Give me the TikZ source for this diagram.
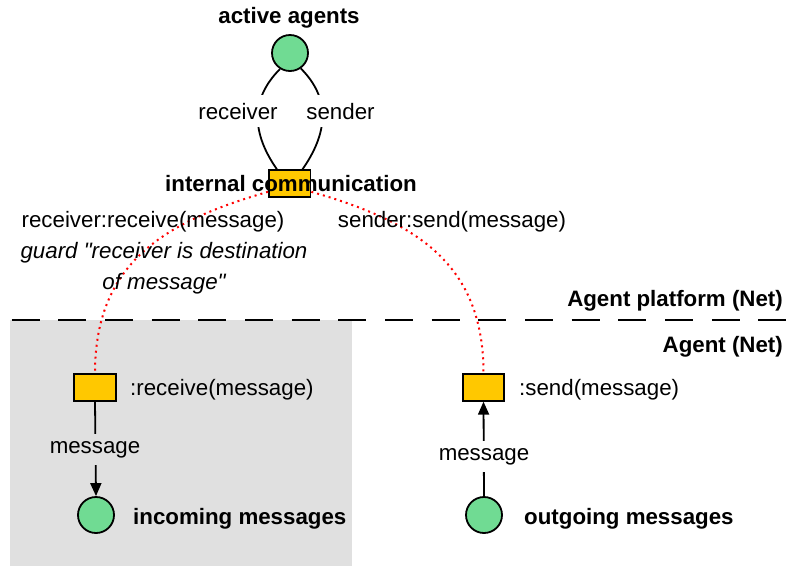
\documentclass[tikz,border=0pt]{standalone}
\usepackage{fontspec}
\setmainfont{Liberation Sans}[Ligatures=TeXOff]
\usetikzlibrary{arrows.meta}
\definecolor{placegreen}{RGB}{112,219,147}
\definecolor{transyellow}{RGB}{255,200,0}
\definecolor{panelgray}{RGB}{224,224,224}
\newcommand\diagfont{\fontsize{22.3}{26}\selectfont}
\begin{document}
\begin{tikzpicture}[x=1pt,y=1pt,
  every node/.style={font=\diagfont, inner sep=0pt},
  place/.style={circle, draw, line width=1.8pt, fill=placegreen, minimum size=36pt},
  transition/.style={rectangle, draw, line width=1.8pt, fill=transyellow,
    minimum width=41.5pt, minimum height=26.5pt},
  arc/.style={line width=1.8pt},
  tip/.style={-{Triangle[length=13pt,width=11pt]}},
  sync/.style={red, line width=2pt, dash pattern=on 2pt off 4pt},
  lbl/.style={anchor=base},
  title/.style={anchor=base, font=\diagfont\bfseries},
  guard/.style={anchor=base, font=\diagfont\itshape},
  gap/.style={anchor=base, inner xsep=2pt, inner ysep=7.5pt}
]
\useasboundingbox (0,0) rectangle (789,-566);

% agent net area and the platform boundary
\fill[panelgray] (10,-319.5) rectangle (352,-566);
\draw[line width=2pt, dash pattern=on 28pt off 18.67pt] (11.7,-319.5) -- (789,-319.5);

% places and transitions
\node[place] (aa) at (290,-53) {};
\node[transition] (ic) at (289.7,-183.5) {};
\node[transition] (rc) at (95,-387.5) {};
\node[transition] (sd) at (483.5,-387.5) {};
\node[place] (inc) at (96,-515) {};
\node[place] (og) at (484,-515) {};

% arcs of the platform net
\draw[arc] (aa.238) to[out=225,in=125,looseness=1.1] (ic.132);
\draw[arc] (aa.305) to[out=315,in=55,looseness=1.1] (ic.48);

% arcs of the agent net
\draw[arc,tip] (rc.south) -- (inc.north);
\draw[arc,tip] (og.north) -- (sd.south);

% synchronous channels
\draw[sync] (ic.201) to[out=196,in=90,looseness=1.12] (rc.north);
\draw[sync] (ic.339) to[out=-16,in=90,looseness=1.12] (sd.north);

% arc inscriptions
\node[gap, fill=white] (rl) at (238,-119) {receiver};
\node[gap, fill=white] (sl) at (340.5,-119) {sender};
\node[gap, fill=panelgray] (mi) at (95,-453) {message};
\node[gap, fill=white] (mo) at (484,-460) {message};

% names and inscriptions
\node[title] (aat) at (289,-23) {active agents};
\node[title] (ict) at (291,-191) {internal communication};
\node[lbl] (rrt) at (153,-227) {receiver:receive(message)};
\node[guard] (g1) at (164,-258) {guard "receiver is destination};
\node[guard] (g2) at (164,-289) {of message"};
\node[lbl] (sst) at (452,-227) {sender:send(message)};
\node[title, anchor=base east] (apt) at (783,-306) {Agent platform (Net)};
\node[title, anchor=base east] (agt) at (783,-352) {Agent (Net)};
\node[lbl, anchor=base west] (rcl) at (130,-395) {:receive(message)};
\node[lbl, anchor=base west] (sdl) at (519,-395) {:send(message)};
\node[title, anchor=base west] (inl) at (133,-524) {incoming messages};
\node[title, anchor=base west] (ogl) at (524,-524) {outgoing messages};
\end{tikzpicture}
\end{document}
